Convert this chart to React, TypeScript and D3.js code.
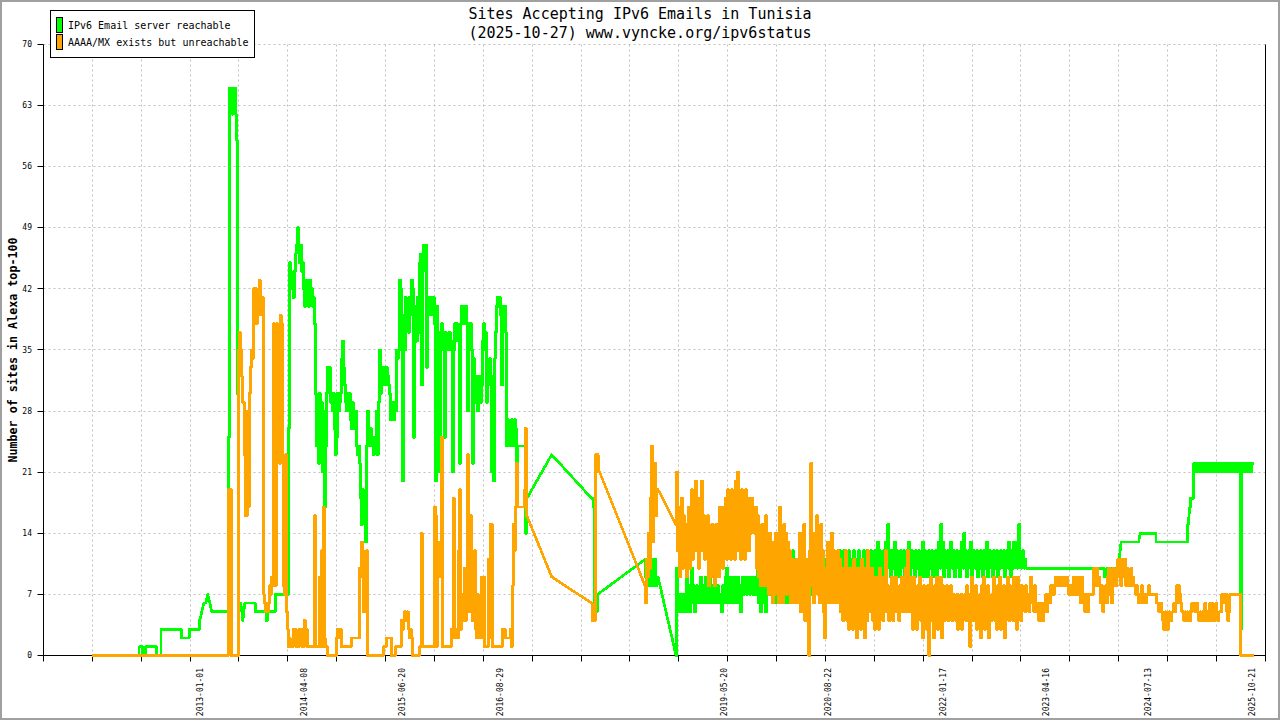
import React from "react";
import * as d3 from "d3";

// years between consecutive daily-ish samples (~4.4 days)
const STEP = 0.012165;

const yTicks = [0, 7, 14, 21, 28, 35, 42, 49, 56, 63, 70];
const xLabelDates = [
  "2013-01-01", "2014-04-08", "2015-06-20", "2016-08-29", "2019-05-20",
  "2020-08-22", "2022-01-17", "2023-04-16", "2024-07-13", "2025-10-21",
];

// [decimal year, value] for isolated samples / plateaus
const greenPoints: [number, number][] = [
  [2011.686, 0], [2012.258, 0], [2012.264, 1], [2012.294, 1], [2012.307, 0], [2012.331, 0],
  [2012.343, 1], [2012.465, 1], [2012.477, 0], [2012.526, 0], [2012.532, 3], [2012.769, 3],
  [2012.781, 2], [2012.866, 2], [2012.878, 3], [2012.988, 3], [2013.0, 4], [2013.024, 5],
  [2013.049, 6], [2013.073, 6], [2013.097, 7], [2013.122, 6], [2013.146, 5], [2013.341, 5],
  [2013.474, 6], [2013.499, 6], [2013.523, 4], [2013.547, 6], [2013.669, 6], [2013.681, 5],
  [2013.803, 5], [2013.816, 4], [2013.828, 5], [2013.912, 5], [2013.925, 7], [2014.071, 7],
  [2017.279, 23], [2023.073, 10], [2023.991, 10], [2024.004, 9], [2024.028, 9], [2024.04, 10],
  [2024.156, 10], [2024.18, 11], [2024.204, 13], [2024.417, 13], [2024.436, 14], [2024.618, 14],
  [2024.636, 13], [2025.007, 13], [2025.019, 15], [2025.038, 17], [2025.056, 18], [2025.08, 18],
];

// [start year, consecutive samples]
const greenRuns: [number, number[]][] = [
  [2013.353, [25, 65, 64, 65, 62, 64, 65, 62, 59, 30]],
  [2014.083, [
    26, 45, 44, 42, 43, 41, 44, 46, 47, 49,
    47, 45, 47, 44, 45, 42, 40, 43, 41, 42,
    40, 43, 41, 42, 40, 41, 38, 30, 24, 29,
    22, 30, 25, 29, 21, 28, 17, 24, 30, 33,
    31, 33, 29, 30, 28, 30, 26, 23, 25, 30,
    28, 29, 30, 34, 36, 33, 31, 29, 28, 30,
    29, 30, 27, 26, 29, 27, 26, 28, 24, 23,
    24, 22, 18, 15, 19, 16, 18, 13, 24, 28,
    25, 24, 26, 24, 25, 23, 24, 25, 28, 23,
    29, 35, 30, 33, 31, 33, 32, 31, 33, 32,
    31, 30, 27, 29, 28, 27, 29, 28, 35, 34,
    35, 43, 42, 36, 20, 39, 35, 41, 39, 40,
    37, 41, 39, 43, 42, 25, 39, 40, 36, 41,
    37, 45, 46, 31, 44, 47, 46, 47, 33, 41,
    40, 41, 39, 41, 40, 41, 38, 20, 40, 25,
    37, 21, 36, 38, 35, 37, 25, 37, 35, 36,
    35, 37, 35, 36, 21, 35, 38, 36, 38, 37,
    36, 22, 38, 40, 38, 39, 38, 40, 38, 28,
    38, 36, 38, 35, 22, 34, 32, 29, 31, 28,
    32, 30, 29, 31, 36, 38, 35, 37, 29, 33,
    31, 34, 32, 21, 31, 20, 34, 37, 40, 41,
    40, 41, 39, 31, 40, 38, 40, 37, 24, 27,
    25, 26, 24, 27, 26, 24, 27, 26, 22, 24,
    24, 24, 24, 24, 24, 24, 24, 14, 18,
  ]],
  [2017.765, [18, 18, 17, 5, 7, 5, 7]],
  [2018.414, [11, 9, 11, 8, 11, 9, 11, 8, 10, 9, 11, 8, 9, 9]],
  [2018.791, [
    0,
    10, 5, 7, 6, 5, 7, 5, 6, 7, 5,
    9, 6, 8, 5, 7, 10, 6, 8, 5, 7,
    8, 6, 7, 7, 9, 6, 8, 6, 7, 9,
    6, 8, 7, 11, 6, 8, 7, 6, 8, 6,
    7, 8, 6, 7, 6, 5, 8, 7, 6, 9,
    10, 6, 8, 7, 9, 6, 7, 9, 6, 8,
    7, 9, 6, 8, 5, 7, 9, 7, 8, 9,
    7, 8, 9, 7, 8, 9, 7, 8, 7, 9,
    7, 10, 6, 8, 5, 9, 7, 6, 9, 5,
    8, 7, 9, 12, 7, 10, 6, 8, 9, 6,
    8, 10, 7, 9, 6, 8, 10, 7, 9, 6,
    8, 10, 6, 9, 7, 10, 12, 8, 10, 7,
    11, 6, 9, 8, 10, 6, 9, 7, 11, 6,
    9, 5, 8, 11, 7, 10, 8, 11, 7, 9,
    10, 7, 11, 8, 9, 10, 7, 11, 8, 10,
    6, 11, 8, 10, 7, 9, 11, 6, 10, 8,
    11, 7, 10, 12, 8, 11, 9, 12, 8, 10,
    11, 9, 12, 8, 11, 10, 9, 12, 8, 10,
    11, 9, 12, 8, 10, 11, 9, 12, 10, 8,
    12, 9, 11, 10, 12, 9, 11, 10, 12, 9,
    11, 13, 9, 12, 10, 11, 9, 12, 10, 13,
    10, 15, 11, 12, 9, 12, 10, 11, 13, 9,
    12, 10, 11, 9, 12, 11, 10, 12, 9, 11,
    12, 10, 13, 9, 11, 12, 10, 11, 9, 12,
    10, 11, 12, 9, 11, 10, 13, 9, 12, 10,
    11, 9, 12, 10, 11, 12, 9, 11, 10, 12,
    9, 11, 13, 10, 15, 11, 13, 9, 12, 11,
    10, 12, 9, 11, 13, 10, 11, 12, 9, 11,
    12, 10, 11, 9, 12, 13, 10, 14, 11, 12,
    9, 11, 12, 10, 13, 9, 11, 12, 10, 11,
    12, 9, 11, 10, 12, 11, 9, 12, 10, 11,
    13, 9, 11, 12, 10, 11, 9, 12, 10, 11,
    12, 9, 11, 10, 12, 11, 10, 12, 9, 11,
    12, 10, 13, 11, 9, 12, 10, 13, 11, 12,
    10, 13, 15, 12, 10, 11, 12, 10, 11, 10,
    10,
  ]],
  [2025.092, [
    22, 21, 22, 22, 21, 22, 21, 22, 22, 21,
    22, 21, 22, 22, 21, 22, 21, 22, 21, 22,
    22, 21, 22, 21, 22, 22, 21, 22, 21, 22,
    21, 22, 22, 21, 22, 21, 22, 22, 21, 22,
    21, 22, 21, 22, 22, 21, 22,
    3,
    22, 21, 22, 22, 21, 22, 21, 22, 22, 21, 22, 22, 22,
  ]],
];

const orangePoints: [number, number][] = [
  [2011.686, 0], [2013.341, 0], [2013.353, 19], [2013.377, 19], [2013.389, 0], [2013.462, 0],
  [2017.279, 9], [2025.822, 0],
];

const orangeRuns: [number, number[]][] = [
  [2013.474, [
    35, 37, 35, 32, 29, 29, 23, 16, 16, 28,
    17, 30, 33, 35, 34, 42, 39, 42, 38, 41,
    39, 43, 41, 39, 41, 7, 6, 5, 6, 5,
    6, 8, 7, 9, 8, 38, 37, 8, 38, 36,
    37, 22, 39, 38, 23, 8, 7, 23, 5, 3,
    1, 2, 1, 1, 1, 3, 2, 3, 1, 1,
    1, 3, 2, 3, 1, 1, 4, 2, 3, 1,
    1, 1, 1, 1, 1, 1, 16, 1, 1, 1,
    1, 9, 1, 12, 1, 17, 2, 1, 1, 0,
    0, 0, 0, 0, 0, 0, 0, 0, 2, 3,
    3, 2, 3, 1, 1, 1, 1, 1, 1, 1,
    1, 1, 1, 2, 2, 2, 2, 2, 2, 2,
    2, 10, 9, 13, 12, 5, 6, 5, 12, 0,
    0, 0, 0, 0, 0, 0, 0, 0, 0, 0,
    0, 0, 0, 0, 0, 1, 1, 1, 2, 2,
    2, 2, 2, 0, 0, 0, 0, 1, 1, 1,
    1, 1, 1, 4, 3, 4, 5, 5, 4, 5,
    3, 2, 3, 2, 0, 0, 0, 0, 0, 0,
    0, 1, 1, 14, 1, 1, 1, 1, 1, 1,
    1, 1, 1, 1, 1, 1, 17, 16, 1, 13,
    9, 12, 9, 25, 1, 1, 1, 1, 1, 1,
    1, 1, 1, 3, 2, 18, 2, 2, 3, 2,
    12, 19, 3, 7, 4, 6, 10, 4, 10, 23,
    11, 5, 16, 8, 4, 4, 12, 3, 2, 7,
    2, 4, 2, 9, 2, 9, 1, 1, 1, 1,
    11, 2, 15, 15, 1, 1, 1, 1, 1, 1,
    1, 1, 1, 1, 3, 2, 3, 2, 2, 2,
    2, 2, 3, 1, 8, 15, 12, 17, 22, 17,
    17, 17, 17, 17, 17, 17, 19, 26, 16,
  ]],
  [2017.765, [6, 4, 4, 4, 23, 21, 23, 21, 21]],
  [2018.414, [8, 6, 11, 9, 14, 10, 18, 24, 13, 20, 22, 16, 19, 19]],
  [2018.791, [
    15, 21, 12, 17, 9, 14, 18, 10, 16, 12,
    15, 9, 13, 17, 10, 15, 19, 11, 16, 12,
    20, 13, 16, 10, 18, 12, 20, 14, 16, 11,
    15, 12, 16, 8, 14, 10, 15, 9, 13, 8,
    15, 11, 14, 9, 17, 11, 15, 10, 17, 12,
    18, 11, 19, 13, 16, 11, 19, 12, 17, 11,
    20, 13, 21, 12, 18, 11, 19, 13, 17, 11,
    19, 14, 18, 12, 17, 14, 18, 15, 16, 14,
    17, 10, 16, 9, 14, 8, 15, 10, 14, 8,
    16, 9, 13, 7, 14, 8, 12, 6, 13, 7,
    14, 9, 12, 6, 17, 8, 13, 6, 15, 9,
    14, 7, 13, 8, 12, 6, 11, 8, 10, 6,
    11, 7, 10, 6, 14, 5, 12, 8, 15, 4,
    11, 6, 10, 0, 12, 22, 8, 14, 6, 12,
    9, 16, 7, 13, 6, 15, 8, 12, 5, 2,
    10, 7, 13, 6, 11, 8, 14, 6, 12, 7,
    10, 6, 12, 8, 11, 5, 9, 4, 10, 6,
    12, 4, 9, 3, 10, 5, 8, 3, 11, 5,
    9, 2, 10, 4, 8, 3, 11, 5, 9, 2,
    10, 4, 12, 5, 9, 6, 10, 4, 8, 3,
    9, 5, 7, 3, 10, 5, 8, 4, 9, 6,
    12, 5, 8, 4, 7, 5, 9, 4, 8, 6,
    9, 5, 7, 4, 8, 6, 9, 5, 8, 6,
    10, 5, 12, 6, 9, 5, 8, 3, 9, 4,
    7, 3, 8, 5, 9, 4, 7, 2, 8, 4,
    7, 3, 8, 0, 6, 9, 4, 7, 2, 8,
    4, 9, 3, 8, 5, 9, 2, 8, 4, 7,
    5, 8, 4, 7, 5, 8, 4, 7, 5, 6,
    4, 7, 3, 6, 5, 7, 3, 6, 5, 7,
    4, 8, 5, 7, 1, 6, 9, 4, 7, 5,
    8, 3, 6, 4, 7, 2, 8, 4, 9, 3,
    7, 5, 8, 2, 6, 4, 7, 5, 9, 4,
    7, 3, 8, 5, 9, 3, 6, 5, 8, 2,
    7, 5, 9, 4, 8, 5, 7, 4, 9, 6,
    8, 3, 9, 5, 8, 4, 8, 6, 7, 5,
    8, 6, 7, 5, 7, 9, 6, 7, 5, 8,
    5, 6, 5, 4, 6, 4, 5, 4, 6, 5,
    7, 5, 6, 7, 6, 8, 7, 8, 7, 8,
    9, 8, 9, 9, 8, 9, 9, 8, 9, 8,
    8, 9, 8, 7, 8, 7, 8, 7, 9, 7,
    8, 7, 9, 7, 8, 6, 9, 6, 7, 5,
    6, 7, 5, 7, 7, 7, 7, 7, 10, 8,
    9, 10, 8, 9, 8, 6, 8, 5, 7, 6,
    8, 6, 9, 10, 7, 9, 6, 10, 8, 9,
    8, 10, 11, 9, 11, 8, 11, 9, 10, 11,
    8, 10, 9, 8, 9, 10, 8, 9, 8, 8,
    7, 8, 7, 6, 7, 6, 8, 6, 7, 7,
    6, 7, 7, 8, 7, 7, 7, 7, 7, 7,
    7, 6, 6, 5, 6, 6, 5, 4, 3, 5,
    3, 4, 3, 5, 4, 4, 5, 5, 6, 5,
    6, 8, 6, 8, 7, 6, 5, 5, 4, 5,
    4, 5, 4, 5, 4, 5, 6, 6, 6, 5,
    6, 6, 5, 4, 5, 4, 5, 4, 5, 6,
    4, 5, 4, 5, 6, 4, 6, 5, 4, 5,
    6, 5, 4, 5, 5, 5, 7, 6, 7, 6,
    7, 5, 4, 5, 7, 7, 7, 7, 7, 7,
    7, 7, 7, 7, 7, 0,
  ]],
];

function buildSeries(points: [number, number][], runs: [number, number[]][]) {
  const out: [number, number][] = points.slice();
  runs.forEach(([start, values]) => {
    values.forEach((v, i) => out.push([start + i * STEP, v]));
  });
  return out.sort((a, b) => a[0] - b[0]);
}

function toYear(s: string) {
  const d = new Date(s + "T00:00:00Z");
  const yr = d.getUTCFullYear();
  const a = Date.UTC(yr, 0, 1);
  const b = Date.UTC(yr + 1, 0, 1);
  return yr + (d.getTime() - a) / (b - a);
}

const W = 1280;
const H = 720;
const mono = "'DejaVu Sans Mono', 'Liberation Mono', monospace";
const crisp = (v: number) => Math.round(v - 0.5) + 0.5;

const App: React.FC = () => {
  const x = d3.scaleLinear().domain([2011.099, 2025.957]).range([43.5, 1265.3]);
  const y = d3.scaleLinear().domain([0, 70]).range([655.5, 44.3]);
  const [x0, x1] = x.domain();
  const xTicks = d3.range(26).map((i) => x0 + (i * (x1 - x0)) / 25);

  // consecutive daily samples are drawn as steps (they pile up as vertical
  // strokes like the original), wider gaps as straight segments
  const seriesPath = (data: [number, number][]) => {
    const p = d3.path();
    data.forEach((d, i) => {
      const px = x(d[0]);
      const py = y(d[1]);
      if (i === 0) {
        p.moveTo(px, py);
        return;
      }
      const prev = data[i - 1];
      if (d[0] - prev[0] <= STEP * 1.5) {
        const mid = (x(prev[0]) + px) / 2;
        p.lineTo(mid, y(prev[1]));
        p.lineTo(mid, py);
        p.lineTo(px, py);
      } else {
        p.lineTo(px, py);
      }
    });
    return p.toString();
  };

  const green = buildSeries(greenPoints, greenRuns);
  const orange = buildSeries(orangePoints, orangeRuns);

  const left = crisp(x(x0));
  const right = crisp(x(x1));
  const top = crisp(y(70));
  const bottom = crisp(y(0));

  return (
    <svg
      width={W}
      height={H}
      style={{ position: "absolute", left: 0, top: 0, display: "block" }}
    >
      <rect x={0} y={0} width={W} height={H} fill="#fff" />
      <rect x={1} y={1} width={W - 2} height={H - 2} fill="none" stroke="#a0a0a0" strokeWidth={2} />

      {/* grid */}
      <g stroke="#c0c0c0" strokeDasharray="2,3" strokeWidth={1}>
        {yTicks.slice(1).map((t) => (
          <line key={"gy" + t} x1={left} x2={right} y1={crisp(y(t))} y2={crisp(y(t))} />
        ))}
        {xTicks.slice(1, -1).map((t, i) => (
          <line key={"gx" + i} x1={crisp(x(t))} x2={crisp(x(t))} y1={top} y2={bottom} />
        ))}
      </g>

      {/* axes */}
      <g stroke="#000" strokeWidth={1}>
        <line x1={left} x2={left} y1={top} y2={bottom} />
        <line x1={right} x2={right} y1={top} y2={bottom + 5} />
        <line x1={left} x2={right} y1={bottom} y2={bottom} />
        {yTicks.map((t) => (
          <line key={"ty" + t} x1={left - 6} x2={left} y1={crisp(y(t))} y2={crisp(y(t))} />
        ))}
        {xTicks.map((t, i) => (
          <line key={"tx" + i} x1={crisp(x(t))} x2={crisp(x(t))} y1={bottom} y2={bottom + 6} />
        ))}
      </g>

      <g fontFamily={mono} fontSize={8} fill="#000">
        {yTicks.map((t) => (
          <text key={"ly" + t} x={32} y={y(t)} dy="0.35em" textAnchor="end">
            {t}
          </text>
        ))}
        {xLabelDates.map((s) => {
          const px = x(toYear(s));
          return (
            <text
              key={s}
              transform={`translate(${px},668) rotate(-90)`}
              dy="0.35em"
              textAnchor="end"
            >
              {s}
            </text>
          );
        })}
      </g>

      {/* series */}
      <path
        d={seriesPath(green)}
        fill="none"
        stroke="#00ff00"
        strokeWidth={2.7}
        strokeLinejoin="round"
        shapeRendering="crispEdges"
      />
      <path
        d={seriesPath(orange)}
        fill="none"
        stroke="#ffa500"
        strokeWidth={2.7}
        strokeLinejoin="round"
        shapeRendering="crispEdges"
      />

      {/* titles */}
      <g fontFamily={mono} fill="#000" textAnchor="middle">
        <text x={640} y={18.5} fontSize={15}>
          Sites Accepting IPv6 Emails in Tunisia
        </text>
        <text x={640} y={37.5} fontSize={15}>
          (2025-10-27) www.vyncke.org/ipv6status
        </text>
        <text
          transform="translate(13,350) rotate(-90)"
          dy="0.35em"
          fontSize={11.7}
          fontWeight="bold"
        >
          Number of sites in Alexa top-100
        </text>
      </g>

      {/* legend */}
      <g>
        <rect x={50.5} y={10.5} width={204} height={47} fill="#fff" stroke="#000" />
        <rect x={56.5} y={17.5} width={6} height={15} fill="#00ff00" stroke="#000" />
        <rect x={56.5} y={34.5} width={6} height={15} fill="#ffa500" stroke="#000" />
        <g fontFamily={mono} fontSize={10} fill="#000">
          <text x={68} y={29}>IPv6 Email server reachable</text>
          <text x={68} y={46}>AAAA/MX exists but unreachable</text>
        </g>
      </g>
    </svg>
  );
};

export default App;
